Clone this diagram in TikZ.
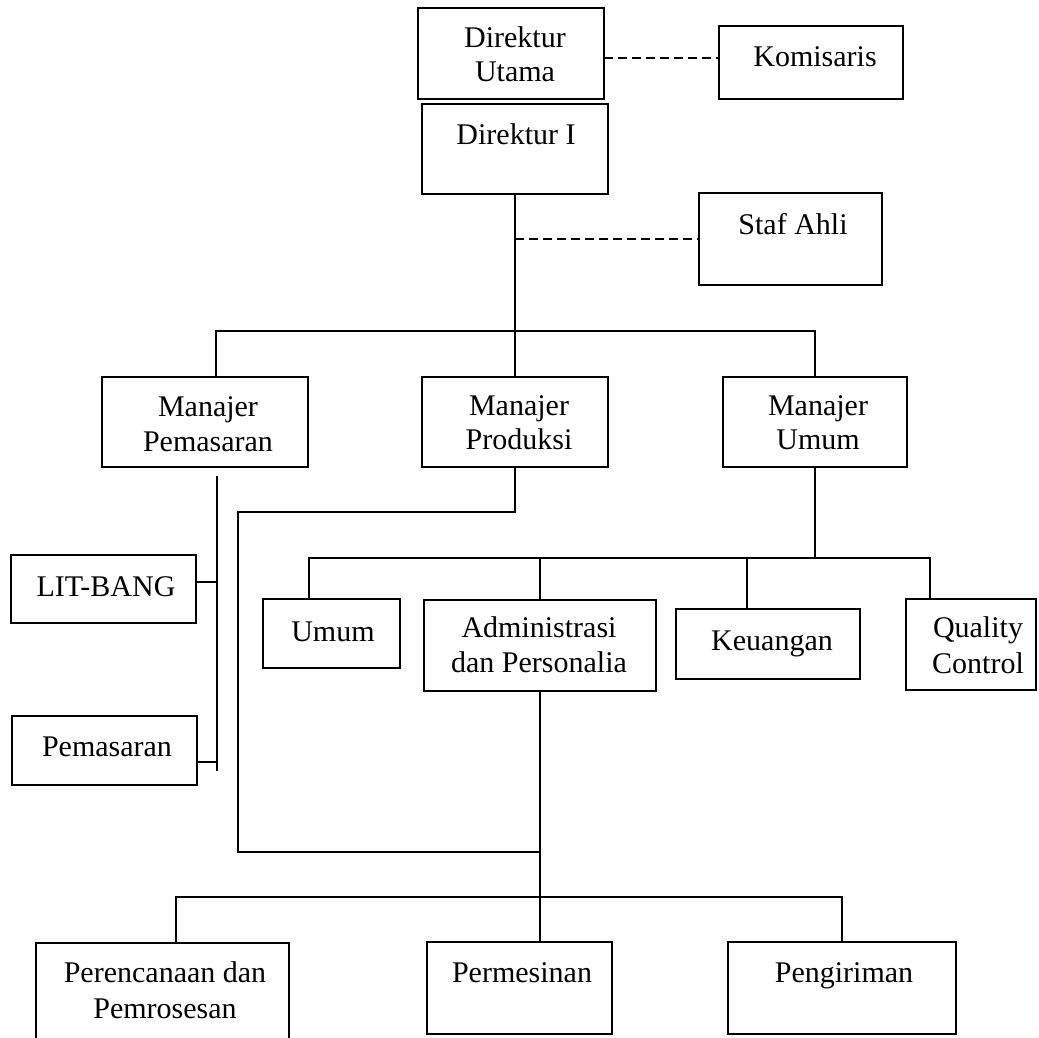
\documentclass[tikz,border=0pt]{standalone}
\usepackage{fontspec}
\setmainfont{Liberation Serif}
\begin{document}
\begin{tikzpicture}[x=1pt,y=-1pt,
  box/.style={draw, line width=1.7pt, rectangle, inner sep=0pt, outer sep=0pt},
  txt/.style={anchor=base, inner sep=0pt, font=\fontsize{30}{35}\selectfont},
  conn/.style={line width=1.7pt, line join=miter},
  dconn/.style={conn, dash pattern=on 9pt off 5pt}]
\useasboundingbox (0,0) rectangle (1039,1037);

% boxes
\node[box, minimum width=186pt, minimum height=91pt] (du) at (511,53.5) {};
\node[box, minimum width=184pt, minimum height=73pt] (kom) at (811,62.5) {};
\node[box, minimum width=186pt, minimum height=90pt] (d1) at (515,149) {};
\node[box, minimum width=183pt, minimum height=92pt] (staf) at (790.5,239) {};
\node[box, minimum width=206pt, minimum height=90pt] (mp) at (205,422) {};
\node[box, minimum width=186pt, minimum height=90pt] (mprod) at (515,422) {};
\node[box, minimum width=184pt, minimum height=90pt] (mu) at (815,422) {};
\node[box, minimum width=185pt, minimum height=68pt] (lit) at (103.5,589) {};
\node[box, minimum width=185pt, minimum height=69pt] (pem) at (104.5,750.5) {};
\node[box, minimum width=137pt, minimum height=69pt] (umum) at (331.5,633.5) {};
\node[box, minimum width=232pt, minimum height=91pt] (adm) at (540,645.5) {};
\node[box, minimum width=184pt, minimum height=70pt] (keu) at (768,644) {};
\node[box, minimum width=130pt, minimum height=91pt] (qc) at (971,644.5) {};
\node[box, minimum width=253pt, minimum height=110pt] (per) at (162.5,998) {};
\node[box, minimum width=185pt, minimum height=92pt] (permes) at (519.5,988) {};
\node[box, minimum width=228pt, minimum height=92pt] (peng) at (842,988) {};

% texts
\node[txt] (t1) at (515,47) {Direktur};
\node[txt] (t2) at (515,81) {Utama};
\node[txt] (t3) at (815,66) {Komisaris};
\node[txt] (t4) at (516,144) {Direktur I};
\node[txt] (t5) at (793,234) {Staf Ahli};
\node[txt] (t6) at (208,416) {Manajer};
\node[txt] (t7) at (208,451) {Pemasaran};
\node[txt] (t8) at (519,415) {Manajer};
\node[txt] (t9) at (519,449) {Produksi};
\node[txt] (t10) at (818,415) {Manajer};
\node[txt] (t11) at (818,449) {Umum};
\node[txt] (t12) at (106,596) {LIT-BANG};
\node[txt] (t13) at (107,756) {Pemasaran};
\node[txt] (t14) at (333,641) {Umum};
\node[txt] (t15) at (539,637) {Administrasi};
\node[txt] (t16) at (539,672) {dan Personalia};
\node[txt] (t17) at (772,650) {Keuangan};
\node[txt] (t18) at (978,637) {Quality};
\node[txt] (t19) at (978,673) {Control};
\node[txt] (t20) at (165,982) {Perencanaan dan};
\node[txt] (t21) at (165,1018) {Pemrosesan};
\node[txt] (t22) at (522,982) {Permesinan};
\node[txt] (t23) at (844,982) {Pengiriman};

% junction coordinates
\coordinate (b1l) at (216,331);
\coordinate (b1r) at (815,331);
\coordinate (mpv1) at (217,476);
\coordinate (mpv2) at (217,771);
\coordinate (pk1) at (238,512);
\coordinate (pk2) at (238,852);
\coordinate (b2l) at (309,558);
\coordinate (b2r) at (930,558);
\coordinate (kx) at (747,558);
\coordinate (b3l) at (176,897);
\coordinate (b3r) at (842,897);

% connectors
\draw[dconn] (du.east |- 0,58) -- (kom.west |- 0,58);
\draw[conn] (d1.south) -- (mprod.north);
\draw[dconn] (d1.south |- staf.west) -- (staf.west);
\draw[conn] (b1l |- mp.north) -- (b1l) -- (b1r) -- (mu.north);
\draw[conn] (mpv1) -- (mpv2);
\draw[conn] ([yshift=7pt]lit.east) -- ([yshift=7pt]lit.east -| mpv1);
\draw[conn] ([yshift=-11.5pt]pem.east) -- ([yshift=-11.5pt]pem.east -| mpv1);
\draw[conn] (mprod.south) |- (pk1) -- (pk2) -- (adm.south |- pk2);
\draw[conn] (mu.south) -- (mu.south |- b2l);
\draw[conn] (b2l |- umum.north) -- (b2l) -- (b2r) -- (b2r |- qc.north);
\draw[conn] (adm.north) -- (adm.north |- b2l);
\draw[conn] (kx) -- (kx |- keu.north);
\draw[conn] (adm.south) -- (adm.south |- b3l);
\draw[conn] (b3l |- per.north) -- (b3l) -- (b3r) -- (peng.north);
\draw[conn] (permes.north -| adm.south) -- (adm.south |- b3l);
\end{tikzpicture}
\end{document}
